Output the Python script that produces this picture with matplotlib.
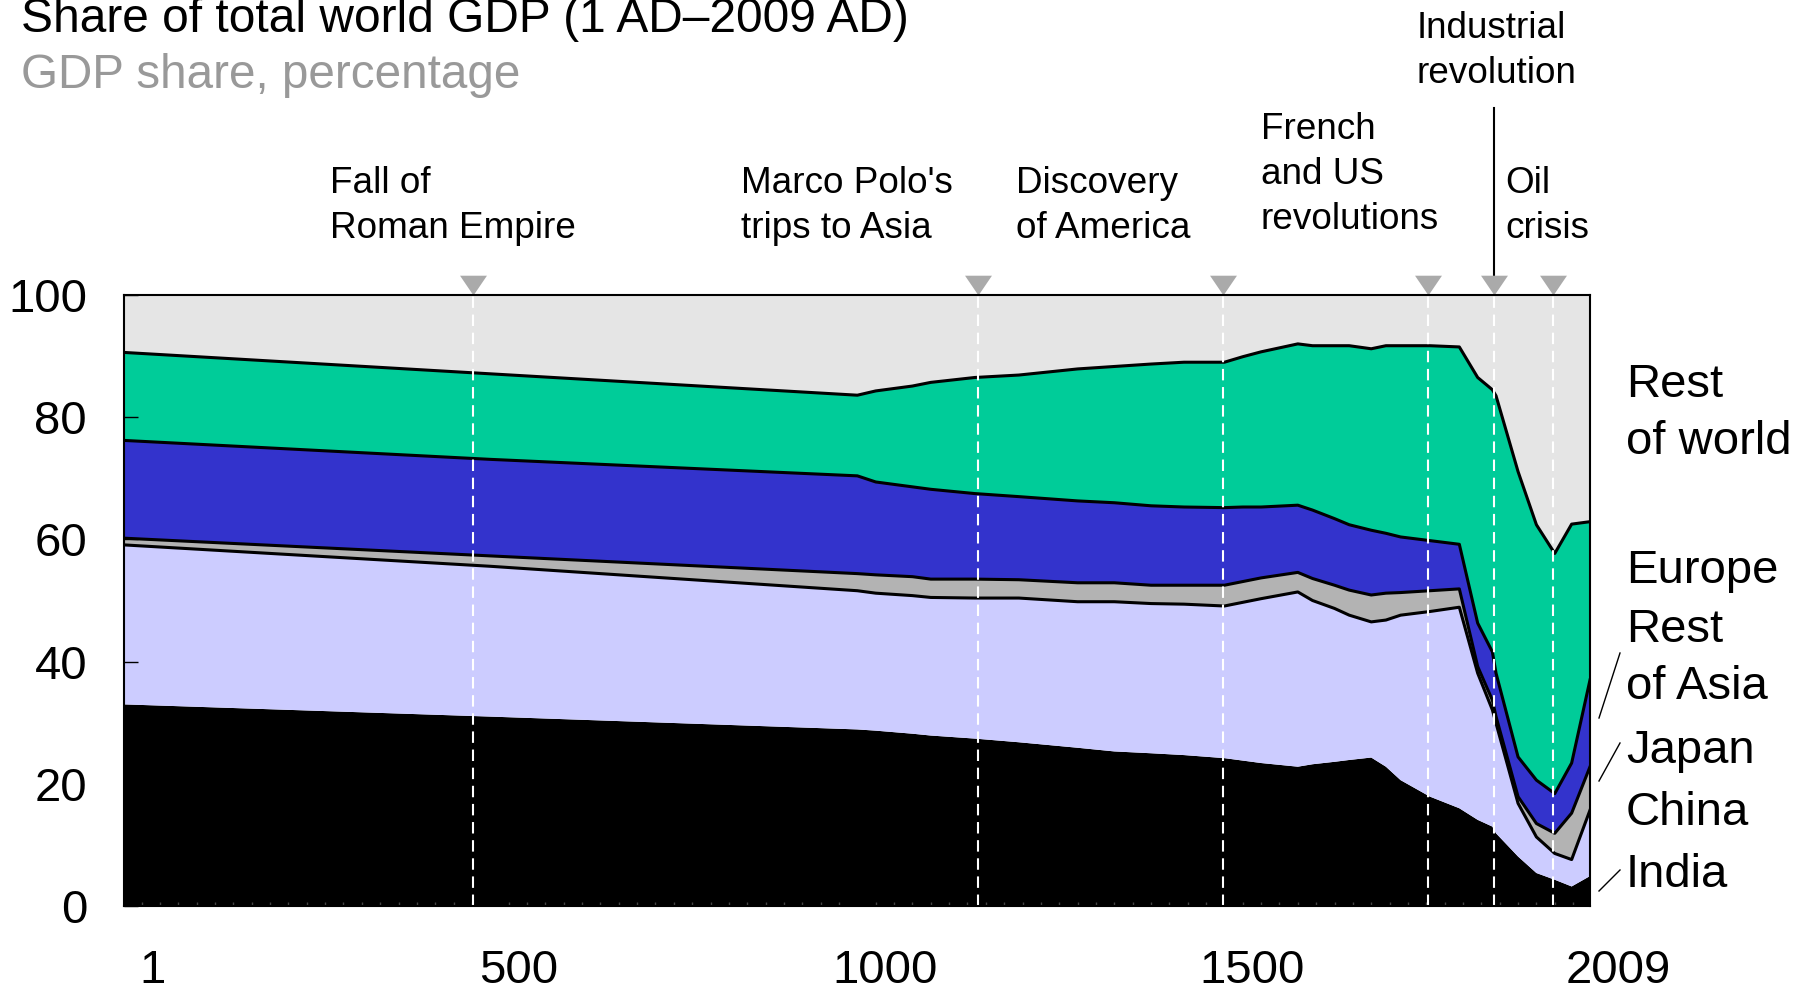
import numpy as np
import matplotlib.pyplot as plt
from matplotlib.lines import Line2D
from matplotlib.ticker import MultipleLocator
from matplotlib.transforms import blended_transform_factory, ScaledTranslation

plt.rcParams['font.family'] = ['Liberation Sans', 'DejaVu Sans']

######## data: share of world GDP, percent
years = [1, 500, 1000, 1025, 1075, 1100, 1160, 1220, 1300, 1350, 1400, 1445,
         1500, 1525, 1550, 1600, 1620, 1650, 1670, 1700, 1720, 1740, 1780,
         1820, 1845, 1865, 1870, 1900, 1925, 1950, 1973, 1998]
india = [33.0, 31.0, 28.9, 28.7, 28.2, 27.9, 27.4, 26.8, 25.9, 25.3, 25.0, 24.7,
         24.2, 23.8, 23.4, 22.8, 23.2, 23.6, 23.9, 24.3, 22.8, 20.6, 17.9,
         16.0, 14.1, 13.0, 11.9, 8.1, 5.4, 4.3, 3.2, 4.9]
china = [26.1, 24.6, 22.7, 22.5, 22.6, 22.6, 23.0, 23.6, 23.9, 24.5, 24.5, 24.7,
         24.9, 25.9, 26.9, 28.6, 26.8, 25.1, 23.7, 22.2, 24.0, 27.0, 30.3,
         32.9, 24.0, 19.1, 18.0, 8.7, 5.9, 4.3, 4.4, 10.8]
japan = [1.1, 1.7, 2.8, 3.0, 3.1, 3.0, 3.1, 3.0, 3.1, 3.1, 3.0, 3.1,
         3.4, 3.4, 3.4, 3.2, 3.6, 3.8, 4.1, 4.4, 4.4, 3.7, 3.4,
         3.0, 1.1, 1.6, 1.1, 1.1, 2.2, 3.3, 7.6, 7.1]
rest_asia = [16.0, 15.8, 16.0, 15.2, 14.7, 14.7, 14.0, 13.6, 13.4, 13.1, 13.0, 12.8,
             12.7, 12.2, 11.6, 11.0, 11.2, 10.9, 10.7, 10.6, 9.8, 9.1, 8.2,
             7.3, 7.1, 7.9, 7.1, 6.5, 7.1, 6.5, 8.2, 14.2]
europe = [14.4, 14.0, 13.2, 14.9, 16.5, 17.5, 19.0, 19.9, 21.6, 22.3, 23.2, 23.7,
          23.8, 24.6, 25.4, 26.4, 26.9, 28.3, 29.3, 29.7, 30.7, 31.3, 31.9,
          32.3, 40.2, 42.9, 45.4, 46.7, 41.8, 39.3, 39.1, 25.9]
rest_world = [9.4, 12.9, 16.4, 15.7, 14.9, 14.3, 13.5, 13.1, 12.1, 11.7, 11.3, 11.0,
              11.0, 10.1, 9.3, 8.0, 8.3, 8.3, 8.3, 8.8, 8.3, 8.3, 8.3,
              8.5, 13.5, 15.5, 16.5, 28.9, 37.6, 42.3, 37.5, 37.1]

colors = ['#000000', '#ccccff', '#b3b3b3', '#3333cc', '#00cc99', '#e5e5e5']

event_years = [476, 1164, 1498, 1778, 1867, 1947]
event_labels = ['Fall of\nRoman Empire', "Marco Polo's\ntrips to Asia",
                'Discovery\nof America', 'French\nand US\nrevolutions',
                'Industrial\nrevolution', 'Oil\ncrisis']

tick_years = [1, 500, 1000, 1500, 1998]
tick_labels = ['1', '500', '1000', '1500', '2009']

######## figure, pixel layout
W, H = 1815, 993
fig = plt.figure(figsize=(W / 100, H / 100), dpi=100)
ax = fig.add_axes([124 / W, 1 - 906 / H, (1590 - 124) / W, (906 - 295) / H])


def put(x, y, s, size, color='black'):
    # x, y in pixels from the top left, y is the baseline
    fig.text(x / W, 1 - y / H, s, fontsize=size, color=color,
             ha='left', va='baseline')


def put_lines(x, y, s, size, step):
    for i, line in enumerate(s.split('\n')):
        put(x, y + i * step, line, size)


ax.stackplot(years, india, china, japan, rest_asia, europe, rest_world,
             colors=colors, linewidth=0)
tops = np.cumsum(np.vstack([india, china, japan, rest_asia, europe]), axis=0)
for k in range(1, 5):
    ax.plot(years, tops[k], color='black', lw=2.2, zorder=2)

for yr in event_years:
    ax.axvline(yr, color='white', lw=1.5, dashes=(5.5, 3.2), zorder=3)

top = blended_transform_factory(ax.transData, ax.transAxes)
tri = [(0, 0), (-0.68, 1), (0.68, 1), (0, 0)]
ax.plot(event_years, [1] * len(event_years), ls='none', marker=tri, ms=28.5,
        color='#aaaaaa', mew=0, transform=top, clip_on=False, zorder=5)
ax.plot([event_years[4]] * 2, [1.03, 1.306], color='black', lw=1.5,
        transform=top, clip_on=False)

ax.set_xlim(1, 1998)
ax.set_ylim(0, 100)
ax.set_xticks(tick_years, labels=tick_labels)
ax.set_yticks(range(0, 101, 20))
ax.xaxis.set_minor_locator(MultipleLocator(25))
ax.tick_params(axis='x', which='major', length=0, pad=31, labelsize=34)
ax.tick_params(axis='x', which='minor', direction='in', length=3, width=1,
               color='#444444')
ax.tick_params(axis='y', direction='in', length=10, width=1, pad=26.6,
               labelsize=34)
shift = ScaledTranslation(0.28, 0, fig.dpi_scale_trans)
for lbl in ax.get_xticklabels():
    lbl.set_transform(lbl.get_transform() + shift)
for sp in ax.spines.values():
    sp.set_linewidth(1.5)
    sp.set_zorder(6)

######## texts
put(21, 32, 'Share of total world GDP (1 AD\u20132009 AD)', 34.5)
put(21, 88, 'GDP share, percentage', 34.3, color='#999999')

label_pos = [(330, 193), (741, 193), (1016, 193), (1261, 139), (1417, 38),
             (1505, 193)]
for (x, y), s in zip(label_pos, event_labels):
    put_lines(x, y, s, 26.6, 45)

right = [('Rest', 397), ('of world', 454), ('Europe', 583), ('Rest', 642),
         ('of Asia', 699), ('Japan', 763), ('China', 825), ('India', 887)]
for s, y in right:
    put(1626, y, s, 34)

for (x0, y0), (x1, y1) in [((1599, 718), (1620, 653)),
                           ((1599, 781), (1620, 743)),
                           ((1599, 891), (1620, 870))]:
    fig.add_artist(Line2D([x0 / W, x1 / W], [1 - y0 / H, 1 - y1 / H],
                          color='black', lw=1, transform=fig.transFigure))

fig.savefig('out.png', dpi=100)
